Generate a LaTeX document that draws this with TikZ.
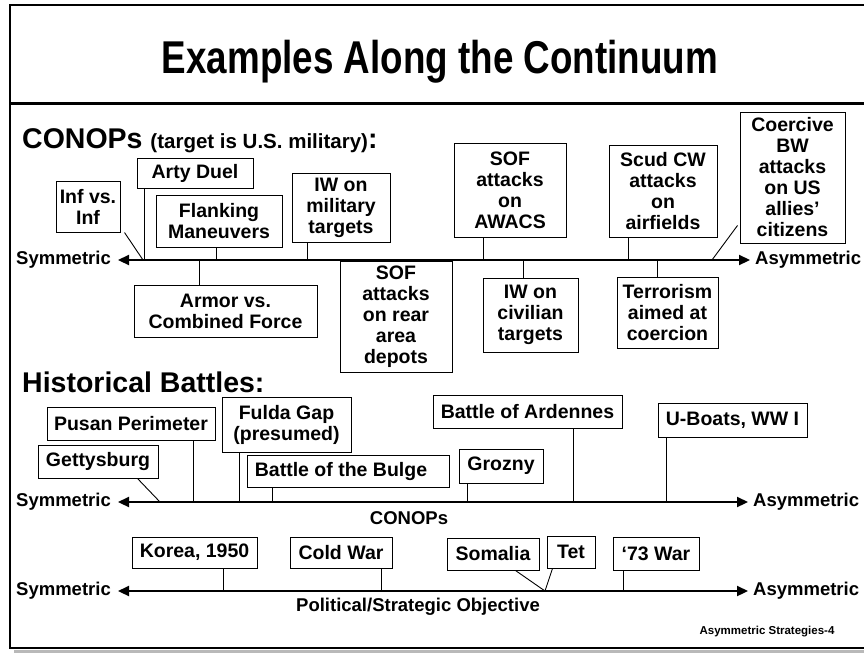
\documentclass[tikz,border=0pt]{standalone}
\usepackage{fontspec}
\setmainfont{Liberation Sans}
\newfontfamily\titlefont[FakeStretch=0.8]{Liberation Sans}
\usetikzlibrary{arrows.meta,calc}

\tikzset{
  ebox/.style={draw, line width=1pt, align=center, inner sep=0pt,
    font=\bfseries\fontsize{19.5}{21}\selectfont},
  lbl/.style={inner sep=0pt, font=\bfseries\fontsize{18.5}{20.5}\selectfont},
  axisline/.style={line width=2.2pt,
    {Triangle[length=11pt,width=10pt]}-{Triangle[length=11pt,width=10pt]}},
  conn/.style={line width=0.9pt},
}

\begin{document}
\begin{tikzpicture}[x=1pt, y=-1pt]
        \useasboundingbox (0,0) rectangle (864,653);

        % Slide frame and title
        \fill[gray!55] (14,649.5) rectangle (864,653);
        \draw[line width=1.6pt] (870,5) -- (10,5) -- (10,648) -- (870,648);
        \draw[line width=3pt] (10,103) -- (864,103);
        \node[font=\titlefont\bfseries\fontsize{46}{52}\selectfont] (title) at (440,62) {Examples Along the Continuum};

        % CONOPs continuum
        \node[anchor=base west, inner sep=0pt, font=\bfseries] (conopshead) at (22,148)
            {\fontsize{28.5}{31}\selectfont CONOPs \fontsize{20.5}{22}\selectfont(target is U.S. military)\fontsize{28.5}{31}\selectfont:};
        \coordinate (aL) at (118,260);
        \coordinate (aR) at (750,260);
        \draw[axisline] (aL) -- (aR);
        \node[lbl, anchor=east] (symA) at (111,260) {Symmetric};
        \node[lbl, anchor=west] (asymA) at (755,260) {Asymmetric};

        \node[ebox, minimum width=64pt, minimum height=51pt] (infinf) at (88,206.5) {Inf vs.\\Inf};
        \node[ebox, minimum width=116pt, minimum height=30pt] (arty) at (195,173) {Arty Duel};
        \node[ebox, minimum width=126pt, minimum height=52pt] (flank) at (219,221) {Flanking\\Maneuvers};
        \node[ebox, minimum width=98pt, minimum height=69pt] (iwmil) at (341,207.5) {IW on\\military\\targets};
        \node[ebox, minimum width=183pt, minimum height=52pt] (armor) at (225.5,311) {Armor vs.\\Combined Force};
        \node[ebox, minimum width=112pt, minimum height=111pt] (sofrear) at (396,316.5) {SOF\\attacks\\on rear\\area\\depots};
        \node[ebox, minimum width=112pt, minimum height=94pt] (sofawacs) at (510,190) {SOF\\attacks\\on\\AWACS};
        \node[ebox, minimum width=95pt, minimum height=74pt] (iwciv) at (530.5,315) {IW on\\civilian\\targets};
        \node[ebox, minimum width=108pt, minimum height=92pt] (scud) at (663,191) {Scud CW\\attacks\\on\\airfields};
        \node[ebox, minimum width=101pt, minimum height=71pt] (terror) at (667.5,312.5) {Terrorism\\aimed at\\coercion};
        \node[ebox, minimum width=105pt, minimum height=131pt] (coerce) at (792.5,177.5) {Coercive\\BW\\attacks\\on US\\allies’\\citizens};

        % ties to the axis
        \foreach \n/\x in {inf/143, arty/144, flank/216, iwmil/307, armor/199,
                           sofawacs/483, iwciv/523, scud/628, terror/657, coerce/712}
            \coordinate (t\n) at (\x,260);
        \foreach \n in {arty, flank, iwmil, sofawacs, scud}
            \draw[conn] (t\n) -- (t\n |- \n.south);
        \foreach \n in {armor, iwciv, terror}
            \draw[conn] (t\n) -- (t\n |- \n.north);
        \draw[conn] ($(infinf.south east)+(4,0)$) -- (tinf);
        \draw[conn] (tcoerce) -- ($(coerce.south west)+(-2,-18)$);

        % Historical battles, CONOPs axis
        \node[anchor=base west, inner sep=0pt, font=\bfseries\fontsize{28.5}{31}\selectfont] (histhead) at (22,392) {Historical Battles:};
        \coordinate (bL) at (118,502);
        \coordinate (bR) at (748,502);
        \draw[axisline] (bL) -- (bR);
        \node[lbl, anchor=east] (symB) at (111,502) {Symmetric};
        \node[lbl, anchor=west] (asymB) at (753,502) {Asymmetric};
        \node[lbl] (conopsB) at (409,518) {CONOPs};

        \node[ebox, minimum width=168pt, minimum height=33pt] (pusan) at (131,423.5) {Pusan Perimeter};
        \node[ebox, minimum width=120pt, minimum height=33pt] (gettys) at (98,461.5) {Gettysburg};
        \node[ebox, minimum width=129pt, minimum height=55pt] (fulda) at (286.5,424.5) {Fulda Gap\\(presumed)};
        \node[ebox, minimum width=202pt, minimum height=32pt] (bulge) at (348,471) {Battle of the Bulge\hspace{14pt}};
        \node[ebox, minimum width=189pt, minimum height=33pt] (ardennes) at (527.5,411.5) {Battle of Ardennes};
        \node[ebox, minimum width=84pt, minimum height=34pt] (grozny) at (501,466) {Grozny};
        \node[ebox, minimum width=149pt, minimum height=34pt] (uboats) at (732.5,420) {U-Boats, WW I};

        \foreach \n/\x in {gettys/160, pusan/193, fulda/239, bulge/272, grozny/467, ardennes/573, uboats/666}
            \coordinate (h\n) at (\x,502);
        \foreach \n in {pusan, fulda, bulge, grozny, ardennes, uboats}
            \draw[conn] (h\n) -- (h\n |- \n.south);
        \draw[conn] ($(gettys.south east)+(-21,0)$) -- (hgettys);

        % Political/strategic axis
        \coordinate (cL) at (118,591);
        \coordinate (cR) at (748,591);
        \draw[axisline] (cL) -- (cR);
        \node[lbl, anchor=east] (symC) at (111,591) {Symmetric};
        \node[lbl, anchor=west] (asymC) at (753,591) {Asymmetric};
        \node[lbl] (polB) at (418,607) {Political/Strategic Objective};

        \node[ebox, minimum width=125pt, minimum height=31pt] (korea) at (194.5,552.5) {Korea, 1950};
        \node[ebox, minimum width=102pt, minimum height=31pt] (coldwar) at (341,552.5) {Cold War};
        \node[ebox, minimum width=92pt, minimum height=32pt] (somalia) at (493,554) {Somalia};
        \node[ebox, minimum width=48pt, minimum height=32pt] (tet) at (571,552) {Tet};
        \node[ebox, minimum width=86pt, minimum height=33pt] (war73) at (656,553.5) {‘73 War};

        \foreach \n/\x in {korea/223, coldwar/381, war73/623, somtet/545}
            \coordinate (p\n) at (\x,591);
        \foreach \n in {korea, coldwar, war73}
            \draw[conn] (p\n) -- (p\n |- \n.south);
        \draw[conn] ($(somalia.south east)+(-24,0)$) -- (psomtet) -- ($(tet.south west)+(6,0)$);

        \node[inner sep=0pt, font=\bfseries\fontsize{11.5}{13}\selectfont] (footer) at (767,632) {Asymmetric Strategies-4};

    \end{tikzpicture}
\end{document}
